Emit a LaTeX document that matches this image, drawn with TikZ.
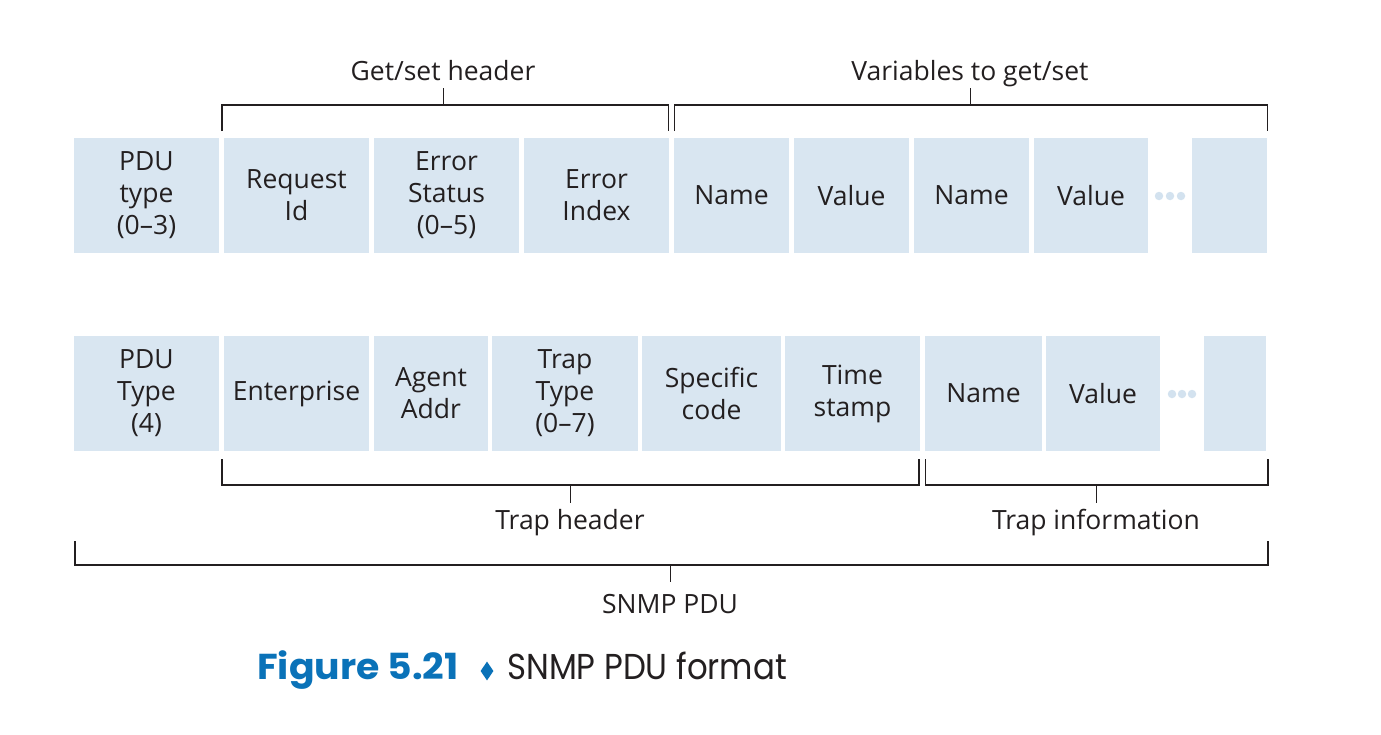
\documentclass[tikz,border=0pt]{standalone}
\usepackage{fontspec}
\setmainfont{Open Sans}
\newfontfamily\capfont{Poppins}
\newfontfamily\capboldfont{Poppins Bold}
\usetikzlibrary{shapes.geometric}
\definecolor{fieldblue}{HTML}{D9E6F1}
\definecolor{dotblue}{HTML}{D3E2EF}
\definecolor{figblue}{HTML}{0A72B8}
\definecolor{ink}{HTML}{231F20}
\tikzset{
  field/.style={fill=fieldblue, draw=none, inner sep=0pt, align=center,
    text=ink, font=\fontsize{26.5}{32}\selectfont, minimum height=115},
  lbl/.style={text=ink, font=\fontsize{26.5}{30}\selectfont, inner sep=0pt},
  bracket/.style={draw=ink, line width=1.4pt},
  dot/.style={circle, fill=dotblue, inner sep=0pt, minimum size=8.5},
}
\begin{document}
\begin{tikzpicture}[x=1pt, y=-1pt]
\useasboundingbox (0,0) rectangle (1381,734);

% get/set PDU fields
\node[field, minimum width=145] (gtype) at (146.5,195.5) {PDU\\type\\(0--3)};
\node[field, minimum width=145] (reqid) at (296.5,195.5) {Request\\Id};
\node[field, minimum width=145] (errst) at (446.5,195.5) {Error\\Status\\(0--5)};
\node[field, minimum width=145] (errix) at (596.5,195.5) {Error\\Index};
\node[field, minimum width=115] (gname1) at (731.5,195.5) {Name};
\node[field, minimum width=115] (gval1) at (851.5,195.5) {Value};
\node[field, minimum width=115] (gname2) at (971.5,195.5) {Name};
\node[field, minimum width=114] (gval2) at (1091,195.5) {Value};
\node[dot] (gd1) at (1159,196) {};
\node[dot] (gd2) at (1170,196) {};
\node[dot] (gd3) at (1181,196) {};
\node[field, minimum width=75] (glast) at (1229.5,195.5) {};

% trap PDU fields
\node[field, minimum width=145] (ttype) at (146.5,393.5) {PDU\\Type\\(4)};
\node[field, minimum width=145] (enter) at (296.5,393.5) {Enterprise};
\node[field, minimum width=114] (agent) at (431,393.5) {Agent\\Addr};
\node[field, minimum width=146] (trapt) at (565,393.5) {Trap\\Type\\(0--7)};
\node[field, minimum width=139] (speci) at (711.5,393.5) {Specific\\code};
\node[field, minimum width=135] (tstmp) at (852.5,393.5) {Time\\stamp};
\node[field, minimum width=117] (tname) at (983.5,393.5) {Name};
\node[field, minimum width=114] (tval) at (1103,393.5) {Value};
\node[dot] (td1) at (1172,394) {};
\node[dot] (td2) at (1182,394) {};
\node[dot] (td3) at (1192,394) {};
\node[field, minimum width=62] (tlast) at (1235,393.5) {};

% group labels
\node[lbl, anchor=base] (gshdr) at (443,80) {Get/set header};
\node[lbl, anchor=base] (vars) at (970,80) {Variables to get/set};
\node[lbl, anchor=base] (thdr) at (570,529) {Trap header};
\node[lbl, anchor=base] (tinfo) at (1096,529) {Trap information};
\node[lbl, anchor=base] (snmp) at (670,613) {SNMP PDU};

% brackets
\draw[bracket] (222,131) -- (222,105) -- (668.5,105) -- (668.5,131);
\draw[bracket] (443.5,105) -- (443.5,88);
\draw[bracket] (674.5,131) -- (674.5,105) -- (1267.5,105) -- (1267.5,131);
\draw[bracket] (970.5,105) -- (970.5,88);
\draw[bracket] (222,459) -- (222,485) -- (919,485) -- (919,459);
\draw[bracket] (570.5,485) -- (570.5,503);
\draw[bracket] (925.5,459) -- (925.5,485) -- (1268,485) -- (1268,459);
\draw[bracket] (1096.5,485) -- (1096.5,503);
\draw[bracket] (75,541) -- (75,565) -- (1268,565) -- (1268,541);
\draw[bracket] (670.5,565) -- (670.5,582);

% caption
\node[anchor=base west, inner sep=0pt, text=figblue,
  font=\capboldfont\fontsize{36}{40}\selectfont] (fignum) at (257,679)
  {\scalebox{1.05}[1]{Figure 5.21}};
\node[diamond, fill=figblue, inner sep=0pt, minimum width=13, minimum height=19]
  (sep) at (487,671) {};
\node[anchor=base west, inner sep=0pt, text=ink,
  font=\capfont\fontsize{36}{40}\selectfont] (figtitle) at (507,679)
  {\scalebox{0.9}[1]{SNMP PDU format}};
\end{tikzpicture}
\end{document}
